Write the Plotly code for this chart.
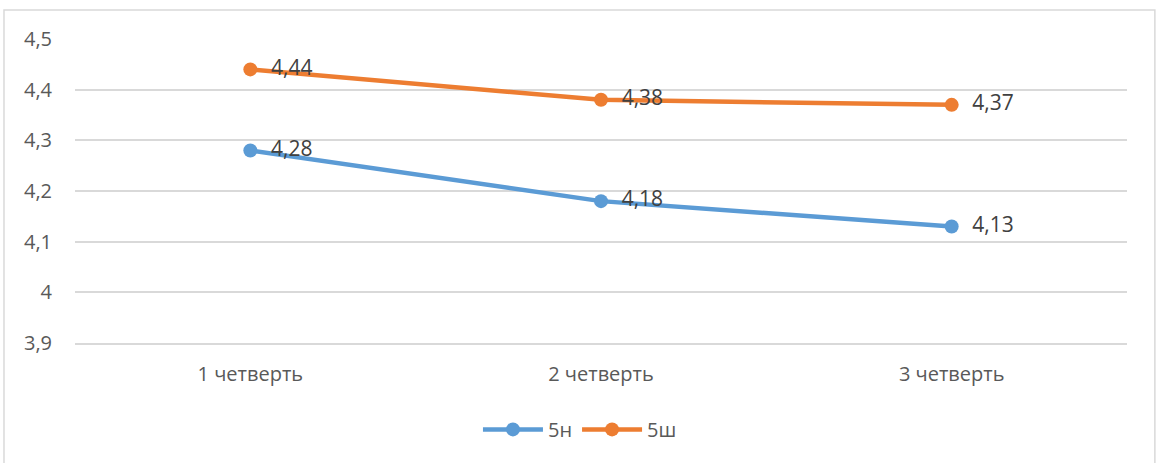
import plotly.graph_objects as go

categories = ["1 четверть", "2 четверть", "3 четверть"]
series_5n = [4.28, 4.18, 4.13]
series_5sh = [4.44, 4.38, 4.37]
y_ticks = [3.9, 4.0, 4.1, 4.2, 4.3, 4.4, 4.5]
y_tick_labels = ["3,9", "4", "4,1", "4,2", "4,3", "4,4", "4,5"]

def fmt(v):
    return "  " + f"{v:.2f}".replace(".", ",")

fig = go.Figure()
for name, vals, color in [("5н", series_5n, "#5B9BD5"), ("5ш", series_5sh, "#ED7D31")]:
    fig.add_trace(go.Scatter(
        x=categories, y=vals, name=name, mode="lines+markers+text",
        line=dict(color=color, width=4.5),
        marker=dict(color=color, size=14),
        text=[fmt(v) for v in vals], textposition="middle right",
        textfont=dict(size=21, color="#404040", family="Open Sans"),
    ))

fig.update_layout(
    width=1156, height=463,
    margin=dict(l=75, r=29, t=39, b=120),
    paper_bgcolor="white", plot_bgcolor="white",
    font=dict(family="Open Sans", color="#595959", size=19),
    showlegend=True,
    legend=dict(orientation="h", x=0.48, xanchor="center", y=-0.22, yanchor="top",
                font=dict(size=20, color="#595959"), itemwidth=60),
    xaxis=dict(range=[-0.5, 2.5], showgrid=False, showline=True, linecolor="#D9D9D9",
               linewidth=1.5, zeroline=False, ticks="", ticklabelstandoff=12,
               tickfont=dict(size=20, color="#595959")),
    yaxis=dict(range=[3.9, 4.5], tickvals=y_ticks, ticktext=y_tick_labels,
               showgrid=True, gridcolor="#D9D9D9", gridwidth=1.5, zeroline=False,
               showline=False, ticks="", ticklabelstandoff=22,
               tickfont=dict(size=20, color="#595959")),
    shapes=[dict(type="rect", xref="paper", yref="paper",
                 x0=-0.0675, x1=1.0265, y0=-0.45, y1=1.095,
                 line=dict(color="#D9D9D9", width=1.5), fillcolor="rgba(0,0,0,0)", layer="below")],
)
fig.write_html("out.html", config={"displayModeBar": False},
               post_script="document.body.style.margin='0';")
